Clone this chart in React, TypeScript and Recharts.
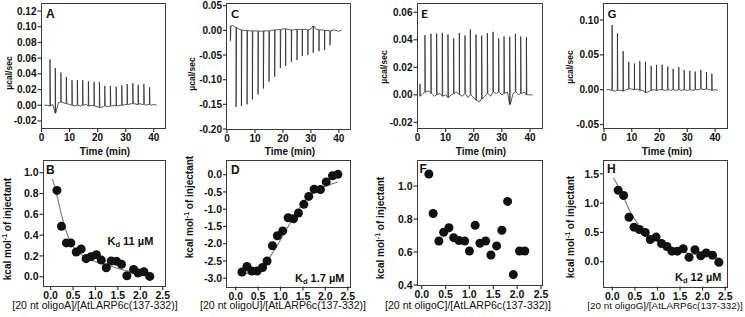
import React from "react";
import { ComposedChart, Line, Scatter, XAxis, YAxis, ReferenceArea } from "recharts";

// Page-sized canvases: every panel is its own chart laid over the same
// 745x317 frame, so label positions below are plain page coordinates.
const W = 745;
const H = 317;
const FONT = '"Liberation Sans", Arial, Helvetica, sans-serif';
const INK = "#111";
const TRACE = "#222";
const BOX = "#3a3a3a";
const FIT = "#7a7a7a";

// ── raw thermograms (µcal/sec vs min) ──────────────────────────────────────
// baseline read once per minute, spikes as injection time + peak height
const BASE_T = [
  1, 2, 3, 4, 5, 6, 7, 8, 9, 10, 11, 12, 13, 14, 15, 16, 17, 18, 19, 20, 21,
  22, 23, 24, 25, 26, 27, 28, 29, 30, 31, 32, 33, 34, 35, 36, 37, 38, 39, 40, 41,
];

const A_T = [2.98, 4.88, 6.9, 8.81, 10.83, 12.74, 14.64, 16.67, 18.69, 20.6, 22.5, 24.5, 26.55, 28.57, 30.48, 32.5, 34.4, 36.43, 38.45];
const A_PEAK = [0.0585, 0.0475, 0.0415, 0.036, 0.032, 0.032, 0.032, 0.0305, 0.0297, 0.0297, 0.0246, 0.0246, 0.0237, 0.0254, 0.027, 0.028, 0.026, 0.027, 0.023];
const A_BASE = [
  0.0, 0.0, -0.001, 0.001, -0.01, 0.003, 0.004, 0.003, 0.002, 0.001, 0.0,
  -0.001, 0.0, -0.001, 0.0, 0.001, -0.001, 0.0, -0.001, -0.002, -0.003,
  -0.002, -0.001, -0.002, -0.001, 0.0, -0.001, 0.0, 0.0, 0.001, 0.001,
  0.002, 0.002, 0.001, 0.002, 0.001, 0.0, 0.001, 0.0, 0.001, 0.0,
];

const C_T = [1.2, 3.21, 5.12, 7.14, 9.05, 11.07, 12.98, 15.0, 17.02, 19.05, 20.95, 22.98, 25.0, 26.9, 28.9, 30.8, 32.86, 34.88, 36.79];
const C_PEAK = [-0.021, -0.155, -0.153, -0.15, -0.14, -0.13, -0.118, -0.104, -0.094, -0.076, -0.072, -0.064, -0.06, -0.052, -0.05, -0.045, -0.042, -0.04, -0.03];
const C_BASE = [
  0.009, 0.01, 0.006, 0.003, 0.001, 0.0, 0.0, -0.001, -0.001, -0.001, -0.001,
  -0.002, -0.001, -0.001, -0.001, 0.0, 0.001, 0.001, 0.002, 0.003, 0.003,
  0.002, 0.001, 0.001, 0.002, 0.002, 0.002, 0.002, 0.001, 0.003, 0.009,
  0.002, 0.001, 0.001, 0.0, 0.0, -0.001, 0.001, 0.0, -0.002, 0.001,
];

const E_T = [0.83, 2.61, 4.75, 6.77, 8.78, 10.8, 12.82, 14.84, 16.85, 18.75, 20.77, 22.79, 24.81, 26.82, 28.84, 30.74, 32.76, 34.78, 36.68, 38.69];
const E_PEAK = [0.008, 0.0434, 0.0444, 0.0446, 0.045, 0.0439, 0.041, 0.045, 0.0431, 0.0475, 0.0439, 0.0429, 0.0448, 0.0458, 0.041, 0.0424, 0.0422, 0.0444, 0.0424, 0.042];
const E_BASE = [
  -0.001, 0.001, 0.002, 0.003, 0.001, -0.001, 0.0, 0.001, -0.001, 0.0, -0.002,
  0.0, 0.001, 0.002, 0.0, -0.001, 0.001, -0.002, 0.0, -0.002, -0.004,
  -0.005, -0.003, -0.001, 0.001, -0.001, 0.002, 0.001, 0.002, 0.0, 0.001,
  0.002, -0.007, 0.001, 0.002, 0.0, 0.001, 0.002, 0.0, 0.0, 0.0,
];

const G_T = [2.88, 4.8, 6.85, 8.89, 10.93, 12.85, 14.9, 16.94, 18.86, 20.9, 22.94, 24.86, 26.9, 28.83, 30.87, 32.79, 34.83, 36.88, 38.8];
const G_PEAK = [0.0928, 0.0808, 0.0553, 0.0399, 0.0375, 0.0409, 0.0399, 0.0341, 0.0356, 0.036, 0.0332, 0.0298, 0.0322, 0.0279, 0.0269, 0.026, 0.0284, 0.025, 0.023];
const G_BASE = [
  0.0, 0.0, -0.001, -0.002, -0.001, -0.001, -0.002, 0.0, 0.001, 0.001, 0.0,
  0.001, -0.001, -0.001, -0.004, -0.003, -0.001, 0.0, -0.001, 0.0, 0.0,
  -0.001, 0.0, -0.001, 0.0, -0.001, 0.0, -0.001, 0.0, -0.001, 0.0,
  -0.001, 0.0, 0.0, 0.001, 0.0, 0.001, 0.0, -0.001, 0.0, -0.001,
];

// ── integrated heats (kcal/mol of injectant vs molar ratio) ────────────────
const B_X = [0.14, 0.24, 0.35, 0.45, 0.57, 0.68, 0.79, 0.9, 1.02, 1.13, 1.24, 1.35, 1.47, 1.58, 1.7, 1.85, 1.95, 2.08, 2.21];
const B_Y = [0.83, 0.485, 0.325, 0.325, 0.238, 0.267, 0.174, 0.193, 0.212, 0.16, 0.087, 0.151, 0.148, 0.119, 0.01, 0.07, 0.035, 0.048, 0.003];
const B_FIT_X = [0.04, 0.13, 0.25, 0.36, 0.5, 0.73, 1.0, 1.32, 1.7, 2.0, 2.2];
const B_FIT_Y = [0.94, 0.8, 0.58, 0.42, 0.29, 0.2, 0.145, 0.103, 0.058, 0.04, 0.03];

const D_X = [0.14, 0.25, 0.36, 0.48, 0.6, 0.7, 0.82, 0.93, 1.05, 1.17, 1.29, 1.4, 1.52, 1.63, 1.75, 1.89, 2.02, 2.16, 2.28];
const D_Y = [-2.82, -2.66, -2.79, -2.79, -2.69, -2.5, -2.06, -1.77, -1.63, -1.25, -1.28, -1.11, -0.86, -0.63, -0.42, -0.43, -0.21, -0.03, 0.01];
const D_FIT_X = [0.04, 0.36, 0.65, 0.88, 1.1, 1.32, 1.55, 1.85, 2.14, 2.28];
const D_FIT_Y = [-2.89, -2.83, -2.58, -2.15, -1.66, -1.17, -0.74, -0.43, -0.27, -0.21];

const F_X = [0.15, 0.24, 0.36, 0.46, 0.57, 0.67, 0.78, 0.9, 1.0, 1.12, 1.22, 1.34, 1.45, 1.57, 1.68, 1.8, 1.92, 2.05, 2.16];
const F_Y = [1.073, 0.834, 0.667, 0.72, 0.747, 0.687, 0.67, 0.667, 0.606, 0.762, 0.653, 0.667, 0.582, 0.637, 0.732, 0.907, 0.463, 0.606, 0.606];

const H_X = [0.13, 0.25, 0.37, 0.48, 0.6, 0.73, 0.84, 0.97, 1.09, 1.21, 1.32, 1.44, 1.57, 1.7, 1.83, 1.96, 2.08, 2.22, 2.36];
const H_Y = [1.22, 1.13, 0.76, 0.59, 0.55, 0.5, 0.38, 0.42, 0.31, 0.26, 0.18, 0.18, 0.22, 0.074, 0.205, 0.1, 0.15, 0.11, -0.01];
const H_FIT_X = [0.03, 0.21, 0.39, 0.58, 0.8, 1.1, 1.4, 1.7, 2.0, 2.36];
const H_FIT_Y = [1.43, 1.17, 0.86, 0.63, 0.46, 0.3, 0.21, 0.14, 0.1, 0.06];

// ── ticks ──────────────────────────────────────────────────────────────────
const TIME_TICKS = [0, 10, 20, 30, 40];
const RATIO_TICKS = [0, 0.5, 1, 1.5, 2, 2.5];
const A_YT = [-0.02, 0, 0.02, 0.04, 0.06, 0.08, 0.1, 0.12];
const C_YT = [-0.2, -0.15, -0.1, -0.05, 0, 0.05];
const E_YT = [-0.02, 0, 0.02, 0.04, 0.06];
const G_YT = [-0.05, 0, 0.05, 0.1];
const B_YT = [0, 0.2, 0.4, 0.6, 0.8, 1.0];
const D_YT = [-3, -2.5, -2, -1.5, -1, -0.5, 0];
const F_YT = [0.4, 0.6, 0.8, 1.0];
const H_YT = [0, 0.5, 1, 1.5];

type Pt = { x: number; y: number };

const zip = (xs: number[], ys: number[]): Pt[] => xs.map((x, i) => ({ x, y: ys[i] }));

// Spikes are essentially vertical at this scale: up from the local baseline
// to the read peak and straight back.
function trace(injT: number[], peaks: number[], base: number[]): Pt[] {
  const rows: Pt[] = BASE_T.map((t, i) => ({ x: t, y: base[i] }));
  injT.forEach((t, i) => {
    const b = base[Math.min(base.length - 1, Math.max(0, Math.round(t) - 1))];
    rows.push({ x: t, y: b }, { x: t + 0.04, y: peaks[i] }, { x: t + 0.2, y: b });
  });
  return rows.sort((a, b) => a.x - b.x);
}

type Decor = {
  letter: string;
  letterAt: [number, number];
  letterFont?: string;
  yLabel: "ucal" | "kcal";
  yLabelAt: [number, number];
  xLabel: string;
  xLabelAt: [number, number];
  xLabelSize: number;
  kd?: string;
  kdAt?: [number, number];
};

function decorations(d: Decor) {
  return () => (
    <g fontFamily={FONT} fill={INK}>
      <text x={d.letterAt[0]} y={d.letterAt[1]} fontSize={12} fontWeight={700} fontFamily={d.letterFont ?? FONT}>
        {d.letter}
      </text>
      {d.yLabel === "ucal" ? (
        <text
          transform={`translate(${d.yLabelAt[0]},${d.yLabelAt[1]}) rotate(-90)`}
          textAnchor="middle"
          dominantBaseline="central"
          fontSize={8.5}
          fontWeight={700}
        >
          µcal/sec
        </text>
      ) : (
        <text
          transform={`translate(${d.yLabelAt[0]},${d.yLabelAt[1]}) rotate(-90)`}
          textAnchor="middle"
          dominantBaseline="central"
          fontSize={10}
          fontWeight={700}
        >
          kcal mol
          <tspan fontSize={7} dy={-3.5}>-1</tspan>
          <tspan dy={3.5}> of injectant</tspan>
        </text>
      )}
      <text
        x={d.xLabelAt[0]}
        y={d.xLabelAt[1]}
        textAnchor="middle"
        fontSize={d.xLabelSize}
        fontWeight={d.xLabel.startsWith("Time") ? 700 : 400}
      >
        {d.xLabel}
      </text>
      {d.kd && d.kdAt && (
        <text x={d.kdAt[0]} y={d.kdAt[1]} fontSize={11} fontWeight={700}>
          K
          <tspan fontSize={7.5} dy={2.5}>d</tspan>
          <tspan dy={-2.5}>{` ${d.kd}`}</tspan>
        </text>
      )}
    </g>
  );
}

type PanelProps = {
  box: [number, number, number, number];
  xDomain: [number, number];
  yDomain: [number, number];
  xTicks: number[];
  yTicks: number[];
  xDigits: number;
  yDigits: number;
  tickFont: number;
  decor: Decor;
  children: React.ReactNode;
};

function Panel({ box, xDomain, yDomain, xTicks, yTicks, xDigits, yDigits, tickFont, decor, children }: PanelProps) {
  const [L, T, R, B] = box;
  const YW = 36;
  const XH = 18;
  const font = { fontSize: tickFont, fontWeight: 700, fill: INK, fontFamily: FONT };
  // Outward tick marks drawn with their labels; x/y come from the axis scale.
  const xTick = (p: any) => (
    <g>
      <rect x={p.x - 0.6} y={B} width={1.2} height={4} fill={BOX} />
      <text x={p.x} y={B + 6} dy="0.71em" textAnchor="middle" {...font}>
        {Number(p.payload.value).toFixed(xDigits)}
      </text>
    </g>
  );
  const yTick = (p: any) => (
    <g>
      <rect x={L - 4} y={p.y - 0.6} width={4} height={1.2} fill={BOX} />
      <text x={L - 5} y={p.y} dy="0.355em" textAnchor="end" {...font}>
        {Number(p.payload.value).toFixed(yDigits)}
      </text>
    </g>
  );
  return (
    <>
      <div style={{ position: "absolute", left: 0, top: 0 }}>
        <ComposedChart
          width={W}
          height={H}
          margin={{ left: L - YW, top: T, right: W - R, bottom: H - B - XH }}
        >
          <XAxis
            type="number"
            dataKey="x"
            domain={xDomain}
            ticks={xTicks}
            interval={0}
            allowDataOverflow
            height={XH}
            axisLine={false}
            tickLine={false}
            tick={xTick}
          />
          <YAxis
            type="number"
            dataKey="y"
            domain={yDomain}
            ticks={yTicks}
            interval={0}
            allowDataOverflow
            width={YW}
            axisLine={false}
            tickLine={false}
            tick={yTick}
          />
          <ReferenceArea
            x1={xDomain[0]}
            x2={xDomain[1]}
            y1={yDomain[0]}
            y2={yDomain[1]}
            fill="none"
            stroke="none"
            ifOverflow="visible"
            label={decorations(decor)}
          />
          {children}
        </ComposedChart>
      </div>
      {/* the panel's box, as a plain bordered block over the plot area */}
      <div
        style={{
          position: "absolute",
          left: Math.round(L) - 1,
          top: Math.round(T) - 1,
          width: Math.round(R) - Math.round(L) + 2,
          height: Math.round(B) - Math.round(T) + 2,
          border: `1.2px solid ${BOX}`,
          boxSizing: "border-box",
          pointerEvents: "none",
        }}
      />
    </>
  );
}

const traceLine = (rows: Pt[]) => (
  <Line
    data={rows}
    dataKey="y"
    type="linear"
    stroke={TRACE}
    strokeWidth={0.75}
    dot={false}
    activeDot={false}
    isAnimationActive={false}
  />
);

const fitLine = (rows: Pt[]) => (
  <Line
    data={rows}
    dataKey="y"
    type="monotone"
    stroke={FIT}
    strokeWidth={1.1}
    dot={false}
    activeDot={false}
    isAnimationActive={false}
  />
);

const points = (rows: Pt[]) => <Scatter data={rows} dataKey="y" fill={INK} isAnimationActive={false} />;

const CAL = '"Lato", "Liberation Sans", sans-serif';

export default function App() {
  return (
    <div style={{ position: "absolute", left: 0, top: 0, width: W, height: H, background: "#fff" }}>
      {/* A */}
      <Panel
        box={[41.5, 4, 165, 128]}
        xDomain={[0, 44]}
        yDomain={[-0.029, 0.129]}
        xTicks={TIME_TICKS}
        yTicks={A_YT}
        xDigits={0}
        yDigits={2}
        tickFont={10}
        decor={{
          letter: "A",
          letterAt: [46, 17.5],
          yLabel: "ucal",
          yLabelAt: [9, 73],
          xLabel: "Time (min)",
          xLabelAt: [105, 154.5],
          xLabelSize: 10,
        }}
      >
        {traceLine(trace(A_T, A_PEAK, A_BASE))}
      </Panel>

      {/* C */}
      <Panel
        box={[227, 4, 350, 129]}
        xDomain={[0, 44]}
        yDomain={[-0.2, 0.0535]}
        xTicks={TIME_TICKS}
        yTicks={C_YT}
        xDigits={0}
        yDigits={2}
        tickFont={10}
        decor={{
          letter: "C",
          letterAt: [231, 17.5],
          letterFont: CAL,
          yLabel: "ucal",
          yLabelAt: [192, 74],
          xLabel: "Time (min)",
          xLabelAt: [290, 154.5],
          xLabelSize: 10,
        }}
      >
        {traceLine(trace(C_T, C_PEAK, C_BASE))}
      </Panel>

      {/* E */}
      <Panel
        box={[417.5, 4, 541.5, 128]}
        xDomain={[0, 44.1]}
        yDomain={[-0.0241, 0.066]}
        xTicks={TIME_TICKS}
        yTicks={E_YT}
        xDigits={0}
        yDigits={2}
        tickFont={10}
        decor={{
          letter: "E",
          letterAt: [421, 17.5],
          letterFont: CAL,
          yLabel: "ucal",
          yLabelAt: [384, 67],
          xLabel: "Time (min)",
          xLabelAt: [481, 154.5],
          xLabelSize: 10,
        }}
      >
        {traceLine(trace(E_T, E_PEAK, E_BASE))}
      </Panel>

      {/* G */}
      <Panel
        box={[604, 4, 727, 128]}
        xDomain={[0, 44.3]}
        yDomain={[-0.055, 0.123]}
        xTicks={TIME_TICKS}
        yTicks={G_YT}
        xDigits={0}
        yDigits={2}
        tickFont={10}
        decor={{
          letter: "G",
          letterAt: [607.5, 17.5],
          letterFont: CAL,
          yLabel: "ucal",
          yLabelAt: [570, 67],
          xLabel: "Time (min)",
          xLabelAt: [667, 154.5],
          xLabelSize: 10,
        }}
      >
        {traceLine(trace(G_T, G_PEAK, G_BASE))}
      </Panel>

      {/* B */}
      <Panel
        box={[43.5, 161, 165, 286]}
        xDomain={[-0.16, 2.55]}
        yDomain={[-0.089, 1.1125]}
        xTicks={RATIO_TICKS}
        yTicks={B_YT}
        xDigits={1}
        yDigits={1}
        tickFont={10.5}
        decor={{
          letter: "B",
          letterAt: [46, 173.5],
          yLabel: "kcal",
          yLabelAt: [7, 229],
          xLabel: "[20 nt oligoA]/[AtLARP6c(137-332)]",
          xLabelAt: [95, 309],
          xLabelSize: 10.6,
          kd: "11 µM",
          kdAt: [107.5, 244.5],
        }}
      >
        {fitLine(zip(B_FIT_X, B_FIT_Y))}
        {points(zip(B_X, B_Y))}
      </Panel>

      {/* D */}
      <Panel
        box={[227, 161, 350, 286.5]}
        xDomain={[-0.194, 2.55]}
        yDomain={[-3.24, 0.396]}
        xTicks={RATIO_TICKS}
        yTicks={D_YT}
        xDigits={1}
        yDigits={1}
        tickFont={10.5}
        decor={{
          letter: "D",
          letterAt: [231, 173.5],
          yLabel: "kcal",
          yLabelAt: [189, 207],
          xLabel: "[20 nt oligoU]/[AtLARP6c(137-332)]",
          xLabelAt: [283, 309],
          xLabelSize: 10.6,
          kd: "1.7 µM",
          kdAt: [295, 281.5],
        }}
      >
        {fitLine(zip(D_FIT_X, D_FIT_Y))}
        {points(zip(D_X, D_Y))}
      </Panel>

      {/* F */}
      <Panel
        box={[417.5, 161, 541.5, 285]}
        xDomain={[-0.088, 2.51]}
        yDomain={[0.4, 1.152]}
        xTicks={RATIO_TICKS}
        yTicks={F_YT}
        xDigits={1}
        yDigits={1}
        tickFont={10.5}
        decor={{
          letter: "F",
          letterAt: [419.5, 173],
          yLabel: "kcal",
          yLabelAt: [380, 228],
          xLabel: "[20 nt oligoC]/[AtLARP6c(137-332)]",
          xLabelAt: [468, 309],
          xLabelSize: 10.6,
        }}
      >
        {points(zip(F_X, F_Y))}
      </Panel>

      {/* H */}
      <Panel
        box={[604, 161, 727, 286.5]}
        xDomain={[-0.184, 2.54]}
        yDomain={[-0.424, 1.72]}
        xTicks={RATIO_TICKS}
        yTicks={H_YT}
        xDigits={1}
        yDigits={1}
        tickFont={10.5}
        decor={{
          letter: "H",
          letterAt: [607, 173],
          yLabel: "kcal",
          yLabelAt: [570, 227],
          xLabel: "[20 nt oligoG]/[AtLARP6c(137-332)]",
          xLabelAt: [665, 309],
          xLabelSize: 9.9,
          kd: "12 µM",
          kdAt: [675, 280.5],
        }}
      >
        {fitLine(zip(H_FIT_X, H_FIT_Y))}
        {points(zip(H_X, H_Y))}
      </Panel>
    </div>
  );
}
